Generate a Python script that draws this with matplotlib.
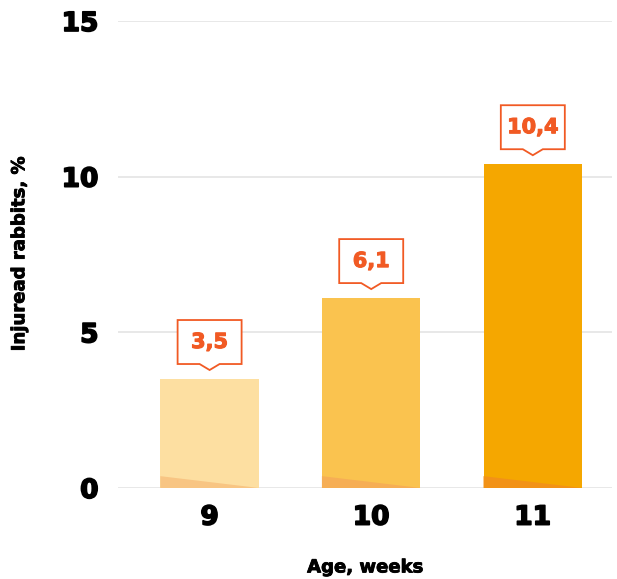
import matplotlib.pyplot as plt
import matplotlib.patheffects as pe
from matplotlib import transforms
from matplotlib.patches import Polygon

# injured rabbits by age
ages = ["9", "10", "11"]
injured = [3.5, 6.1, 10.4]
labels = ["3,5", "6,1", "10,4"]

bar_colors = ["#FDDFA1", "#FAC34F", "#F5A700"]
wedge_colors = ["#F8C583", "#F6AE55", "#F29217"]
accent = "#F15A24"

plt.rcParams['font.family'] = ['DejaVu Sans']

fig = plt.figure(figsize=(6.17, 5.79), dpi=100)
ax = fig.add_axes([0.1912, 0.1572, 0.8007, 0.8065])

x = list(range(len(ages)))
width = 0.61
ax.bar(x, injured, width=width, color=bar_colors, zorder=2)

# darker wedge along the bottom of each bar
wedge_h = 0.38
for xi, c in zip(x, wedge_colors):
    w = Polygon([(xi - width / 2, 0), (xi - width / 2, wedge_h),
                 (xi + width / 2, 0)], closed=True, color=c, lw=0, zorder=3)
    ax.add_patch(w)

# heavier look for the bold text
def heavy(color, lw=0.9):
    return [pe.withStroke(linewidth=lw, foreground=color)]

# callout boxes above each bar (outline in inches, anchored at the bar top)
bw, bh, gap, tri_h, tri_w = 0.64, 0.44, 0.09, 0.06, 0.10
for xi, v, lab in zip(x, injured, labels):
    trans = fig.dpi_scale_trans + transforms.ScaledTranslation(xi, v, ax.transData)
    yb = gap + tri_h
    pts = [(0, gap), (-tri_w, yb), (-bw / 2, yb), (-bw / 2, yb + bh),
           (bw / 2, yb + bh), (bw / 2, yb), (tri_w, yb)]
    box = Polygon(pts, closed=True, facecolor="white", edgecolor=accent,
                  lw=1.3, transform=trans, zorder=4, clip_on=False)
    ax.add_patch(box)
    ax.text(0, yb + bh / 2, lab, transform=trans, ha="center", va="center",
            color=accent, fontsize=15, fontweight="bold", zorder=5,
            path_effects=heavy(accent, 0.8))

ax.set_xlim(-0.567, 2.49)
ax.set_ylim(0, 15)
ax.set_yticks([0, 5, 10, 15])
ax.set_xticks(x)
ax.set_xticklabels(ages)
ax.grid(axis="y", color="#E6E6E6", lw=1.3, zorder=0)
ax.set_axisbelow(True)
for s in ax.spines.values():
    s.set_visible(False)
ax.tick_params(length=0, labelsize=19, pad=14)
ax.tick_params(axis="x", pad=12)
for t in ax.get_xticklabels() + ax.get_yticklabels():
    t.set_fontweight("bold")
    t.set_path_effects(heavy("black", 1.2))

ax.set_xlabel("Age, weeks", fontsize=13, fontweight="bold", labelpad=20,
              path_effects=heavy("black", 0.6))
ax.set_ylabel("Injuread rabbits, %", fontsize=13, fontweight="bold", labelpad=24,
              path_effects=heavy("black", 0.6))

fig.savefig("out.png", dpi=100)
